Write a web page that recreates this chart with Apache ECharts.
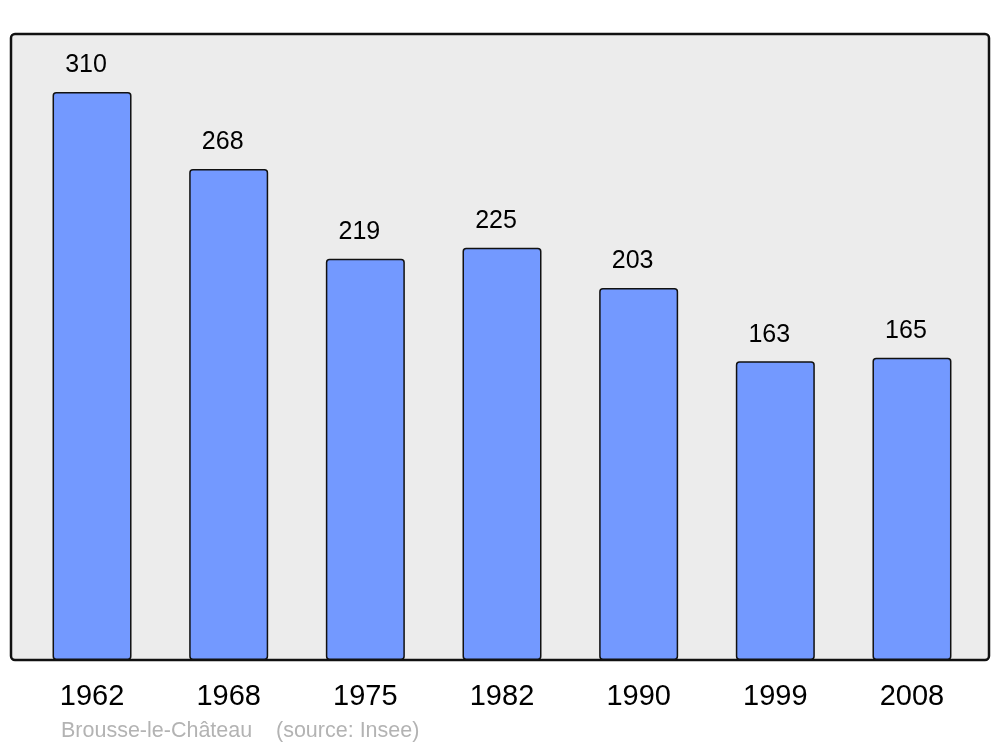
<!DOCTYPE html>
<html>
<head>
<meta charset="utf-8">
<script src="https://cdn.jsdelivr.net/npm/echarts@6/dist/echarts.min.js"></script>
<style>
html,body{margin:0;padding:0;background:#fff;}
#chart{width:1000px;height:747px;}
</style>
</head>
<body>
<div id="chart"></div>
<script>
const years = ['1962', '1968', '1975', '1982', '1990', '1999', '2008'];
const population = [310, 268, 219, 225, 203, 163, 165];
const placeName = 'Brousse-le-Château';
const sourceText = '(source: Insee)';

const chart = echarts.init(document.getElementById('chart'), null, {renderer: 'canvas'});
const FONT = '"Liberation Sans", Arial, sans-serif';
chart.setOption({
  animation: false,
  backgroundColor: '#ffffff',
  grid: {left: 23.7, right: 19.7, top: 34, bottom: 87, containLabel: false},
  xAxis: {
    type: 'category',
    data: years,
    axisLine: {show: false},
    axisTick: {show: false},
    axisLabel: {fontSize: 29, color: '#000', fontFamily: FONT, margin: 22}
  },
  yAxis: {
    type: 'value',
    min: 0,
    max: 341.65,
    show: false,
    splitLine: {show: false}
  },
  graphic: [
    {
      type: 'rect', z: -10, silent: true,
      shape: {x: 11, y: 34, width: 978, height: 626, r: 4},
      style: {fill: '#ececec', stroke: '#111', lineWidth: 2.5}
    },
    {
      type: 'text', left: 61, top: 720, silent: true,
      style: {text: placeName, fill: '#b3b3b3', font: '21.5px ' + FONT}
    },
    {
      type: 'text', left: 276, top: 720, silent: true,
      style: {text: sourceText, fill: '#b3b3b3', font: '21.5px ' + FONT}
    }
  ],
  series: [{
    type: 'bar',
    data: population,
    barWidth: 79,
    itemStyle: {color: '#7399ff', borderColor: '#111', borderWidth: 1.5, borderRadius: 3},
    label: {
      show: true, position: 'top', distance: 14, offset: [-6, 0],
      fontSize: 25, color: '#000', fontFamily: FONT
    }
  }]
});
</script>
</body>
</html>
